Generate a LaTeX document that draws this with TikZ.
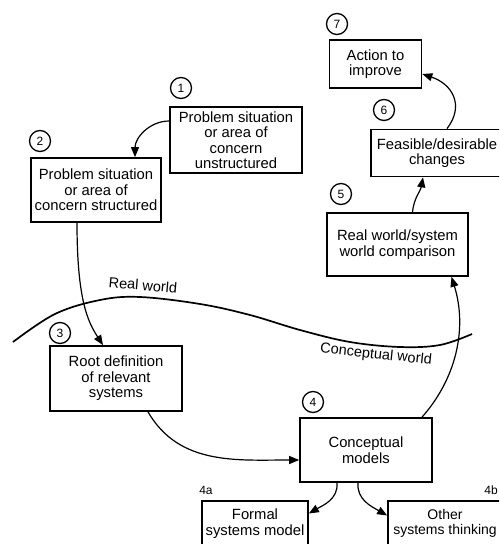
\documentclass[tikz,border=0pt]{standalone}
\usepackage{fontspec}
\setmainfont{Liberation Sans}
\usetikzlibrary{arrows.meta}
\begin{document}
\begin{tikzpicture}[x=1pt,y=-1pt,
  box/.style={draw, line width=1.7pt, align=center, inner sep=0pt,
    font=\fontsize{14.8}{15.5}\selectfont},
  num/.style={draw, circle, line width=1.3pt, minimum size=21pt, inner sep=0pt,
    font=\fontsize{12}{12}\selectfont},
  tag/.style={font=\fontsize{12}{12}\selectfont},
  conn/.style={line width=1.2pt, -{Triangle[length=10pt,width=8pt]}},
  worldlabel/.style={font=\fontsize{14.5}{14.5}\selectfont}]
\clip (0,0) rectangle (499,544);
\fill[white] (0,0) rectangle (499,544);

% stages of the methodology
\node[box, minimum width=132pt, minimum height=66pt] (n1) at (236,140)
  {Problem situation\\or area of\\concern\\unstructured};
\node[box, minimum width=130pt, minimum height=64pt] (n2) at (96,190)
  {Problem situation\\or area of\\concern structured};
\node[box, minimum width=132pt, minimum height=65pt] (n3) at (116,378.5)
  {Root definition\\of relevant\\systems};
\node[box, minimum width=132pt, minimum height=64pt] (n4) at (366,450)
  {Conceptual\\models};
\node[box, minimum width=141pt, minimum height=63pt] (n5) at (397.5,244.5)
  {Real world/system\\world comparison};
\node[box, minimum width=132pt, minimum height=47pt] (n6) at (437,153)
  {Feasible/desirable\\changes};
\node[box, minimum width=92pt, minimum height=48pt] (n7) at (375.5,64)
  {Action to\\improve};
\node[box, minimum width=106pt, minimum height=45pt] (n4a) at (255,523.5)
  {Formal\\systems model};
\node[box, minimum width=114pt, minimum height=45pt,
  font=\fontsize{14}{15.5}\selectfont] (n4b) at (445,523.5)
  {Other\\systems thinking};

% step numbers
\node[num] (c1) at (181,88) {1};
\node[num] (c2) at (40,141) {2};
\node[num] (c3) at (60,333) {3};
\node[num] (c4) at (313,402) {4};
\node[num] (c5) at (341,194) {5};
\node[num] (c6) at (384,110) {6};
\node[num] (c7) at (337,24) {7};
\node[tag] (t4a) at (206,490) {4a};
\node[tag] (t4b) at (491,490) {4b};

% boundary between the real world and the conceptual world
\draw[line width=1.7pt] plot[smooth, tension=0.6] coordinates
  {(13,342) (55,314) (100,300) (140,297) (200,304) (250,315)
   (300,330) (350,342) (400,347) (440,345) (472,334)};
\node[worldlabel, rotate=-5] (rw) at (143,285) {Real world};
\node[worldlabel, rotate=-6] (cw) at (376,355) {Conceptual world};

% flow between the stages
\draw[conn] ([yshift=19pt]n1.west) to[out=180, in=90] ([xshift=39pt]n2.north);
\draw[conn] ([xshift=-19pt]n2.south) .. controls (77,300) and (88,322) .. ([xshift=-13pt]n3.north);
\draw[conn] ([xshift=32pt]n3.south) to[out=-60, in=180] ([yshift=-10pt]n4.west);
\draw[conn] ([xshift=56pt]n4.north) .. controls (455,380) and (468,330) .. ([xshift=54pt]n5.south);
\draw[conn] ([xshift=15pt]n5.north) to[out=85, in=-100] ([xshift=-14pt]n6.south);
\draw[conn] ([xshift=10pt]n6.north) .. controls (465,105) and (452,84) .. ([yshift=-10pt]n7.east);
\draw[conn] ([xshift=-29pt]n4.south) to[out=-85, in=30] ([yshift=10pt]n4a.east);
\draw[conn] ([xshift=-8pt]n4.south) to[out=-95, in=150] ([yshift=8pt]n4b.west);
\end{tikzpicture}
\end{document}
